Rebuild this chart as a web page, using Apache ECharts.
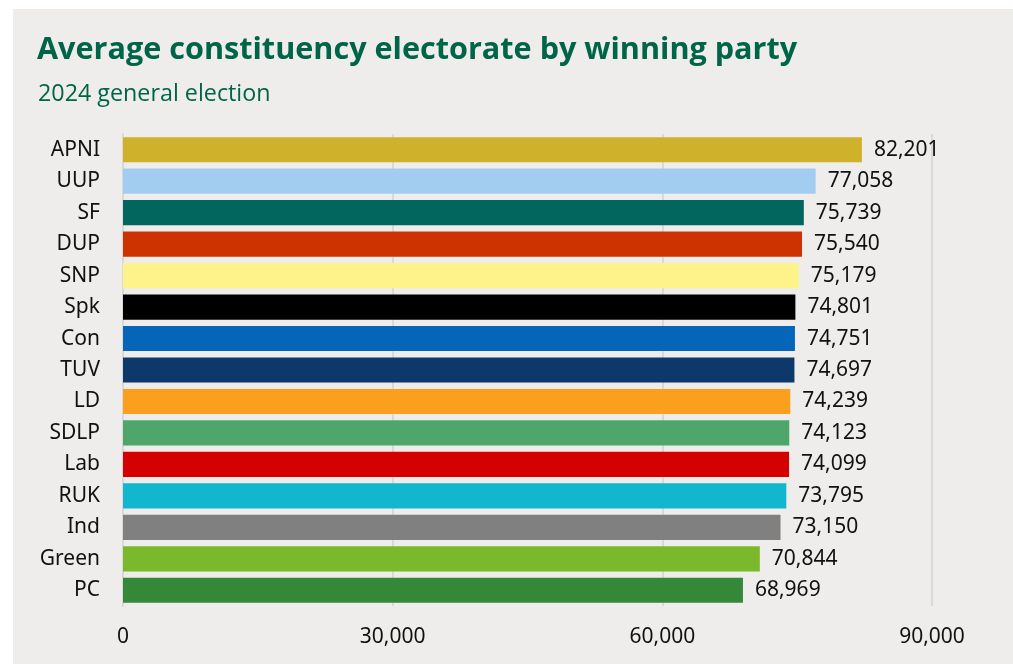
<!DOCTYPE html>
<html>
<head>
<meta charset="utf-8">
<script src="https://cdn.jsdelivr.net/npm/echarts@6/dist/echarts.min.js"></script>
<style>
html,body{margin:0;padding:0;background:#ffffff;}
#panel{position:absolute;left:13px;top:9px;width:1000px;height:655px;background:#efedeb;}
#chart{position:absolute;left:0;top:0;width:1013px;height:664px;}
</style>
</head>
<body>
<div id="panel"></div>
<div id="chart"></div>
<script>
const categories = ["APNI","UUP","SF","DUP","SNP","Spk","Con","TUV","LD","SDLP","Lab","RUK","Ind","Green","PC"];
const values = [82201,77058,75739,75540,75179,74801,74751,74697,74239,74123,74099,73795,73150,70844,68969];
const colors = ["#cfb12c","#a3cdf0","#02665e","#cd3300","#fdf38a","#000000","#0565b9","#0c386a","#faa01e","#4fa66a","#d50000","#12b6cf","#808080","#7ab92b","#348837"];
const xTicks = [0,30000,60000,90000];

const chart = echarts.init(document.getElementById('chart'), null, {renderer:'canvas'});
const fmt = v => v.toLocaleString('en-GB');
chart.setOption({
  backgroundColor: 'transparent',
  animation: false,
  title: [{
    text: 'Average constituency electorate by winning party',
    left: 32, top: 30,
    textStyle: {fontFamily: 'Open Sans', fontWeight: 'bold', fontSize: 30.6, color: '#006548'}
  },{
    text: '2024 general election',
    left: 33, top: 78,
    textStyle: {fontFamily: 'Open Sans', fontWeight: 'normal', fontSize: 23.3, color: '#006548'}
  }],
  grid: {left: 123, right: 81, top: 134, bottom: 58, containLabel: false},
  xAxis: {
    type: 'value', min: 0, max: 90000, interval: 30000,
    axisLine: {show: false}, axisTick: {show: false},
    splitLine: {show: true, lineStyle: {color: '#d9d9d9', width: 2}},
    axisLabel: {margin: 21, fontFamily: 'Noto Sans', fontSize: 21, color: '#111111',
      formatter: v => xTicks.includes(v) ? fmt(v) : ''}
  },
  yAxis: {
    type: 'category', data: categories, inverse: true,
    axisLine: {show: true, lineStyle: {color: '#d9d9d9', width: 2}},
    axisTick: {show: false},
    axisLabel: {margin: 23, fontFamily: 'Noto Sans', fontSize: 21, color: '#111111'}
  },
  series: [{
    type: 'bar',
    data: values.map((v,i) => ({value: v, itemStyle: {color: colors[i]}})),
    barCategoryGap: '20%',
    label: {show: true, position: 'right', distance: 12, fontFamily: 'Noto Sans', fontSize: 21, color: '#111111',
      formatter: p => fmt(p.value)}
  }]
});
</script>
</body>
</html>
